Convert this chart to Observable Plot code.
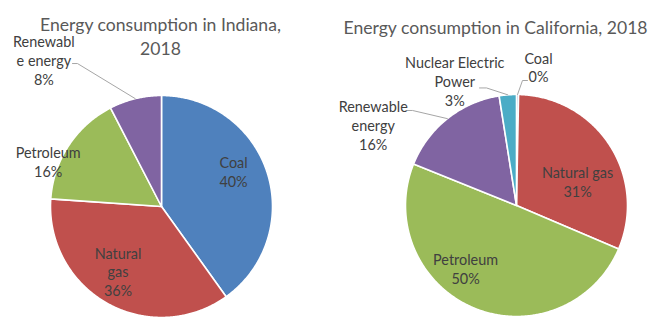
<!DOCTYPE html>
<html><head><meta charset="utf-8">
<script src="https://cdn.jsdelivr.net/npm/d3@7"></script>
<script src="https://cdn.jsdelivr.net/npm/@observablehq/plot@0.6"></script>
<style>
body{margin:0;background:#fff;}
#wrap{display:flex;width:660px;height:336px;overflow:hidden;}
#wrap svg{overflow:visible;}
</style></head><body><div id="wrap"></div>
<script>
// ---- data ----
const sources = ["Coal", "Natural gas", "Petroleum", "Renewable energy", "Nuclear Electric Power"];
const sourceColors = ["#4F81BD", "#C0504D", "#9BBB59", "#8064A2", "#4BACC6"];

const indianaTitle = "Energy consumption in Indiana,\n2018";
const indianaNames = ["Coal", "Natural gas", "Petroleum", "Renewable energy"];
const indianaValues = [40.1, 36.0, 16.3, 7.6];
const indianaLabels = ["Coal\n40%", "Natural\ngas\n36%", "Petroleum\n16%", "Renewabl\ne energy\n8%"];

const californiaTitle = "Energy consumption in California, 2018";
const californiaNames = ["Coal", "Natural gas", "Petroleum", "Renewable energy", "Nuclear Electric Power"];
const californiaValues = [0.3, 31.1, 49.7, 16.4, 2.5];
const californiaLabels = ["Coal\n0%", "Natural gas\n31%", "Petroleum\n50%", "Renewable\nenergy\n16%", "Nuclear Electric\nPower\n3%"];

// ---- layout (pixel frame, label placement in radius units relative to centre) ----
const indianaLayout = {
  width: 330, height: 336, cx: 161, cy: 206, r: 111,
  title: [-0.009, 1.54],
  labels: [[0.649, 0.313], [-0.392, -0.584], [-1.021, 0.405], [-1.06, 1.318]],
  leaders: [[3, [-0.802, 1.288], [-0.757, 1.288]]]
};
const californiaLayout = {
  width: 330, height: 336, cx: 186, cy: 205, r: 111,
  title: [-0.189, 1.615],
  labels: [[0.198, 1.247], [0.55, 0.216], [-0.459, -0.568], [-1.291, 0.727], [-0.556, 1.122]],
  leaders: [[0, [0.099, 1.126], [0.054, 1.126]], [4, [-0.333, 1.059], [-0.27, 1.059]], [3, [-0.982, 0.856], [-0.937, 0.856]]]
};

function pieChart(title, names, values, labels, L) {
  const arcs = d3.pie().sort(null).startAngle(0).endAngle(2 * Math.PI)(values);
  const slicePts = [];
  arcs.forEach((a, i) => {
    const n = Math.max(2, Math.ceil((a.endAngle - a.startAngle) / (Math.PI / 360)));
    slicePts.push({name: names[i], x: 0, y: 0});
    for (let k = 0; k <= n; k++) {
      const t = a.startAngle + (a.endAngle - a.startAngle) * k / n;
      slicePts.push({name: names[i], x: Math.sin(t), y: Math.cos(t)});
    }
    slicePts.push({name: names[i], x: 0, y: 0});
  });
  const labelData = labels.map((text, i) => ({text, x: L.labels[i][0], y: L.labels[i][1]}));
  const leaderPts = [];
  L.leaders.forEach(([i, p0, p1], j) => {
    const a = arcs[i];
    const mid = (a.startAngle + a.endAngle) / 2;
    leaderPts.push({id: j, x: p0[0], y: p0[1]});
    leaderPts.push({id: j, x: p1[0], y: p1[1]});
    leaderPts.push({id: j, x: Math.sin(mid), y: Math.cos(mid)});
  });
  return Plot.plot({
    width: L.width, height: L.height,
    margin: 0,
    x: {domain: [-L.cx / L.r, (L.width - L.cx) / L.r], range: [0, L.width], axis: null},
    y: {domain: [-(L.height - L.cy) / L.r, L.cy / L.r], range: [L.height, 0], axis: null},
    color: {domain: sources, range: sourceColors},
    style: {fontFamily: "Lato, sans-serif", background: "#fff", overflow: "visible"},
    marks: [
      Plot.line(slicePts, {x: "x", y: "y", z: "name", fill: "name", stroke: "white", strokeWidth: 1.6, strokeLinejoin: "round"}),
      Plot.line(leaderPts, {x: "x", y: "y", z: "id", stroke: "#a6a6a6", strokeWidth: 1}),
      Plot.text(labelData, {x: "x", y: "y", text: "text", fontSize: 14.4, lineHeight: 1.3, fill: "#404040", textAnchor: "middle"}),
      Plot.text([title], {x: () => L.title[0], y: () => L.title[1], text: d => d, fontSize: 17.6, lineHeight: 1.38, fill: "#595959", textAnchor: "middle"})
    ]
  });
}

const wrap = document.getElementById("wrap");
wrap.append(pieChart(indianaTitle, indianaNames, indianaValues, indianaLabels, indianaLayout));
wrap.append(pieChart(californiaTitle, californiaNames, californiaValues, californiaLabels, californiaLayout));
</script></body></html>
